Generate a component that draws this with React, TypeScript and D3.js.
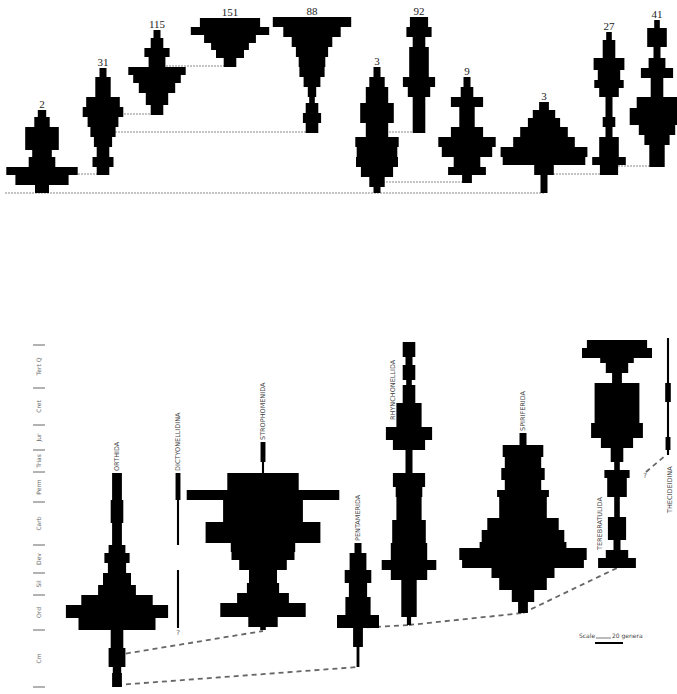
import React, { useEffect, useRef } from "react";
import * as d3 from "d3";

// each segment: [time from, time to, number of genera]
type Seg = [number, number, number];

// ---- upper diagram (numbered spindles) ----
const topLabels = ["2", "31", "115", "151", "88", "3", "92", "9", "3", "27", "41"];

const topA: Seg[] = [[0, 8, 10], [8, 18, 38], [18, 26, 51], [26, 36, 19], [36, 43, 14], [43, 66, 24], [66, 76, 11], [76, 83, 6]];
const topB: Seg[] = [[18, 26, 9], [26, 36, 15], [36, 46, 9], [46, 56, 13], [56, 66, 18], [66, 76, 22], [76, 86, 29], [86, 96, 24], [96, 116, 11], [116, 125, 5]];
const topC: Seg[] = [[78, 88, 9], [88, 100, 16], [100, 110, 26], [110, 118, 34], [118, 126, 41], [126, 136, 12], [136, 145, 18], [145, 155, 9], [155, 163, 5]];
const topD: Seg[] = [[126, 135, 9], [135, 143, 20], [143, 150, 27], [150, 158, 37], [158, 166, 56], [166, 175, 43]];
const topE: Seg[] = [[60, 70, 9], [70, 80, 13], [80, 90, 9], [90, 96, 4], [96, 106, 6], [106, 116, 12], [116, 126, 18], [126, 136, 19], [136, 146, 23], [146, 156, 29], [156, 166, 41], [166, 176, 56]];
const topF: Seg[] = [[0, 6, 5], [6, 16, 11], [16, 26, 23], [26, 36, 30], [36, 46, 29], [46, 56, 31], [56, 70, 16], [70, 90, 24], [90, 106, 16], [106, 116, 11], [116, 126, 5]];
const topG: Seg[] = [[60, 96, 9], [96, 106, 16], [106, 116, 23], [116, 146, 14], [146, 156, 9], [156, 166, 18], [166, 176, 13]];
const topH: Seg[] = [[10, 18, 7], [18, 26, 27], [26, 36, 19], [36, 46, 36], [46, 56, 41], [56, 66, 23], [66, 86, 11], [86, 96, 23], [96, 106, 9], [106, 116, 5]];
const topI: Seg[] = [[0, 18, 5], [18, 28, 14], [28, 36, 59], [36, 46, 62], [46, 56, 44], [56, 66, 34], [66, 75, 23], [75, 83, 16], [83, 91, 7]];
const topJ: Seg[] = [[18, 28, 13], [28, 36, 24], [36, 56, 14], [56, 66, 5], [66, 76, 9], [76, 96, 5], [96, 105, 14], [105, 113, 21], [113, 123, 16], [123, 135, 22], [135, 153, 9], [153, 161, 4]];
const topK: Seg[] = [[26, 48, 11], [48, 58, 18], [58, 68, 26], [68, 85, 39], [85, 96, 29], [96, 115, 9], [115, 125, 23], [125, 135, 12], [135, 146, 5], [146, 165, 14], [165, 173, 4]];

const topSpindles = [topA, topB, topC, topD, topE, topF, topG, topH, topI, topJ, topK];
// parent -> child, joined at the child's base
const topLinks = [[0, 1], [1, 2], [2, 3], [1, 4], [5, 6], [5, 7], [8, 9], [9, 10]];
const topRoot = [0, 5, 8];

// ---- lower diagram (orders through geological time) ----
const orders = ["ORTHIDA", "DICTYONELLIDINA", "STROPHOMENIDA", "PENTAMERIDA", "RHYNCHONELLIDA", "SPIRIFERIDA", "TEREBRATULIDA", "THECIDEIDINA"];

const orthida: Seg[] = [[0, 14, 7], [14, 20, 6], [20, 39, 12], [39, 57, 9], [57, 69, 55], [69, 82, 73], [82, 92, 51], [92, 102, 27], [102, 114, 20], [114, 124, 13], [124, 134, 18], [134, 142, 12], [142, 164, 7], [164, 187, 9], [187, 214, 7]];
const dictyonellidina: Seg[] = [[59, 117, 1.5], [142, 187, 1.5], [187, 214, 3.5]];
const strophomenida: Seg[] = [[57, 60, 4], [60, 70, 21], [70, 84, 61], [84, 94, 37], [94, 104, 23], [104, 117, 20], [117, 127, 34], [127, 135, 45], [135, 144, 46], [144, 165, 82], [165, 187, 57], [187, 197, 109], [197, 214, 51], [214, 225, 1.5], [225, 245, 3.5]];
const pentamerida: Seg[] = [[20, 40, 2], [40, 59, 7], [59, 72, 30], [72, 90, 18], [90, 104, 13], [104, 117, 19], [117, 134, 12], [134, 144, 5]];
const rhynchonellida: Seg[] = [[62, 70, 3], [70, 107, 11], [107, 117, 26], [117, 127, 39], [127, 144, 26], [144, 167, 24], [167, 190, 18], [190, 200, 19], [200, 214, 23], [214, 237, 5], [237, 247, 23], [247, 260, 33], [260, 284, 18], [284, 302, 9], [302, 307, 4], [307, 322, 9], [322, 330, 5], [330, 345, 9]];
const spiriferida: Seg[] = [[74, 85, 7], [85, 97, 16], [97, 109, 34], [109, 119, 45], [119, 127, 87], [127, 139, 91], [139, 145, 62], [145, 157, 59], [157, 169, 51], [169, 190, 34], [190, 197, 37], [197, 207, 26], [207, 219, 31], [219, 230, 26], [230, 242, 29], [242, 254, 5]];
const terebratulida: Seg[] = [[119, 129, 27], [129, 137, 16], [137, 147, 5], [147, 170, 13], [170, 190, 4], [190, 209, 14], [209, 217, 18], [217, 225, 4], [225, 239, 9], [239, 249, 23], [249, 264, 37], [264, 304, 32], [304, 314, 7], [314, 324, 16], [324, 329, 24], [329, 339, 50], [339, 347, 43]];
const thecideidina: Seg[] = [[232, 237, 1.5], [237, 250, 3.5], [250, 285, 1.5], [285, 304, 4], [304, 349, 1.5]];

const orderSpindles = [orthida, dictyonellidina, strophomenida, pentamerida, rhynchonellida, spiriferida, terebratulida, thecideidina];
// [from order, time, to order, time]
const orderLinks = [[0, 32, 2, 56], [0, 2, 3, 20], [3, 59, 4, 62], [4, 62, 5, 74], [5, 74, 6, 119]];

const periods = ["Cm", "Ord", "Sil", "Dev", "Carb", "Perm", "Trias", "Jur", "Cret", "Tert Q"];
const periodBase = [0, 57, 92, 114, 142, 185, 215, 237, 262, 299, 342];

// layout
const W = 677, H = 694;
const topCenters = [42, 103, 157, 230, 312, 377, 419, 467, 544, 609, 657];
const orderCenters = [117, 178, 263, 358, 409, 523, 617, 668];
// label placement: [dx px, time]
const orderLabelPos = [[0, 216], [0, 216], [0, 247], [0, 146], [-16, 267], [0, 256], [-17, 137], [2, 174]];

function runs(segs: Seg[]) {
    const out: Seg[][] = [];
    let cur: Seg[] = [];
    segs.forEach(s => {
        if (cur.length && cur[cur.length - 1][1] !== s[0]) { out.push(cur); cur = []; }
        cur.push(s);
    });
    if (cur.length) out.push(cur);
    return out;
}

function drawSpindle(g: any, segs: Seg[], cx: number, y: any, xw: any) {
    const area = d3.area<{ t: number; w: number }>()
        .y(d => y(d.t))
        .x0(d => cx - xw(d.w) / 2)
        .x1(d => cx + xw(d.w) / 2);
    runs(segs).forEach(r => {
        const pts = r.flatMap(([t0, t1, w]) => [{ t: t0, w }, { t: t1, w }]);
        g.append("path").attr("d", area(pts)).attr("fill", "#000");
    });
}

export default function App() {
    const ref = useRef<SVGSVGElement>(null);

    useEffect(() => {
        const svg = d3.select(ref.current);
        svg.selectAll("*").remove();

        svg.append("rect").attr("width", W).attr("height", H).attr("fill", "#fff");

        // genera -> px (scale bar: 20 genera)
        const xw = d3.scaleLinear().domain([0, 20]).range([0, 28]);

        // ---------- upper ----------
        const yTop = d3.scaleLinear().domain([0, 180]).range([193, 13]);
        const top = svg.append("g");
        const base = (i: number) => topSpindles[i][0][0];

        top.append("line")
            .attr("x1", 5).attr("x2", topCenters[topRoot[topRoot.length - 1]])
            .attr("y1", yTop(0)).attr("y2", yTop(0))
            .style("stroke", "#8a8a8a").style("stroke-width", 1.2)
            .style("stroke-dasharray", "2,1");

        topLinks.forEach(([p, c]) => {
            top.append("line")
                .attr("x1", topCenters[p]).attr("x2", topCenters[c])
                .attr("y1", yTop(base(c) + 1)).attr("y2", yTop(base(c) + 1))
                .style("stroke", "#8a8a8a").style("stroke-width", 1.1)
                .style("stroke-dasharray", "2,1");
        });

        topSpindles.forEach((s, i) => drawSpindle(top, s, topCenters[i], yTop, xw));

        topSpindles.forEach((s, i) => {
            top.append("text")
                .attr("x", topCenters[i])
                .attr("y", yTop(s[s.length - 1][1]) - 2)
                .attr("text-anchor", "middle")
                .style("font-family", "Liberation Serif, serif")
                .style("font-size", "11px")
                .style("fill", "#222")
                .text(topLabels[i]);
        });

        // ---------- lower ----------
        const yBot = d3.scaleLinear().domain([0, 350]).range([687, 337]);
        const bot = svg.append("g");

        // time axis
        periodBase.forEach(t => {
            bot.append("line")
                .attr("x1", 33).attr("x2", 45)
                .attr("y1", yBot(t)).attr("y2", yBot(t))
                .style("stroke", "#666").style("stroke-width", 1);
        });
        periods.forEach((p, i) => {
            const ym = (yBot(periodBase[i]) + yBot(periodBase[i + 1])) / 2;
            bot.append("text")
                .attr("transform", `translate(39,${ym}) rotate(-90)`)
                .attr("text-anchor", "middle")
                .attr("dominant-baseline", "middle")
                .style("font-family", "DejaVu Sans, sans-serif")
                .style("font-size", "6px")
                .style("fill", "#666")
                .text(p);
        });

        // dashed links
        const dash = (x1: number, y1: number, x2: number, y2: number) =>
            bot.append("line")
                .attr("x1", x1).attr("y1", y1).attr("x2", x2).attr("y2", y2)
                .style("stroke", "#666").style("stroke-width", 1.8)
                .style("stroke-dasharray", "5,4");

        orderLinks.forEach(([a, ta, b, tb]) => {
            dash(orderCenters[a], yBot(ta), orderCenters[b], yBot(tb));
        });
        dash(orderCenters[7] - 22, yBot(215), orderCenters[7] - 2, yBot(232));

        orderSpindles.forEach((s, i) => drawSpindle(bot, s, orderCenters[i], yBot, xw));

        orders.forEach((name, i) => {
            const [dx, t] = orderLabelPos[i];
            bot.append("text")
                .attr("transform", `translate(${orderCenters[i] + dx},${yBot(t)}) rotate(-90)`)
                .attr("text-anchor", "start")
                .attr("dominant-baseline", "middle")
                .style("font-family", "DejaVu Sans, sans-serif")
                .style("font-size", "6.5px")
                .style("fill", "#444")
                .text(name);
        });

        // question marks
        [[orderCenters[1], 52], [orderCenters[7] - 23, 209]].forEach(([x, t]) => {
            bot.append("text")
                .attr("x", x).attr("y", yBot(t))
                .attr("text-anchor", "middle")
                .style("font-family", "DejaVu Sans, sans-serif")
                .style("font-size", "7px")
                .style("fill", "#555")
                .text("?");
        });

        // scale bar
        const sx = 595, sy = 643;
        bot.append("text").attr("x", sx - 16).attr("y", sy - 5)
            .style("font-family", "DejaVu Sans, sans-serif").style("font-size", "6px").style("fill", "#444")
            .text("Scale");
        bot.append("line").attr("x1", sx + 1).attr("x2", sx + 16).attr("y1", sy - 5).attr("y2", sy - 5)
            .style("stroke", "#555").style("stroke-width", 0.8);
        bot.append("text").attr("x", sx + 17).attr("y", sy - 5)
            .style("font-family", "DejaVu Sans, sans-serif").style("font-size", "6px").style("fill", "#444")
            .text("20 genera");
        bot.append("line").attr("x1", sx).attr("x2", sx + xw(20)).attr("y1", sy).attr("y2", sy)
            .style("stroke", "#000").style("stroke-width", 2);
    }, []);

    return (
        <svg ref={ref} width={W} height={H}
            style={{ position: "absolute", left: 0, top: 0, display: "block" }} />
    );
}
